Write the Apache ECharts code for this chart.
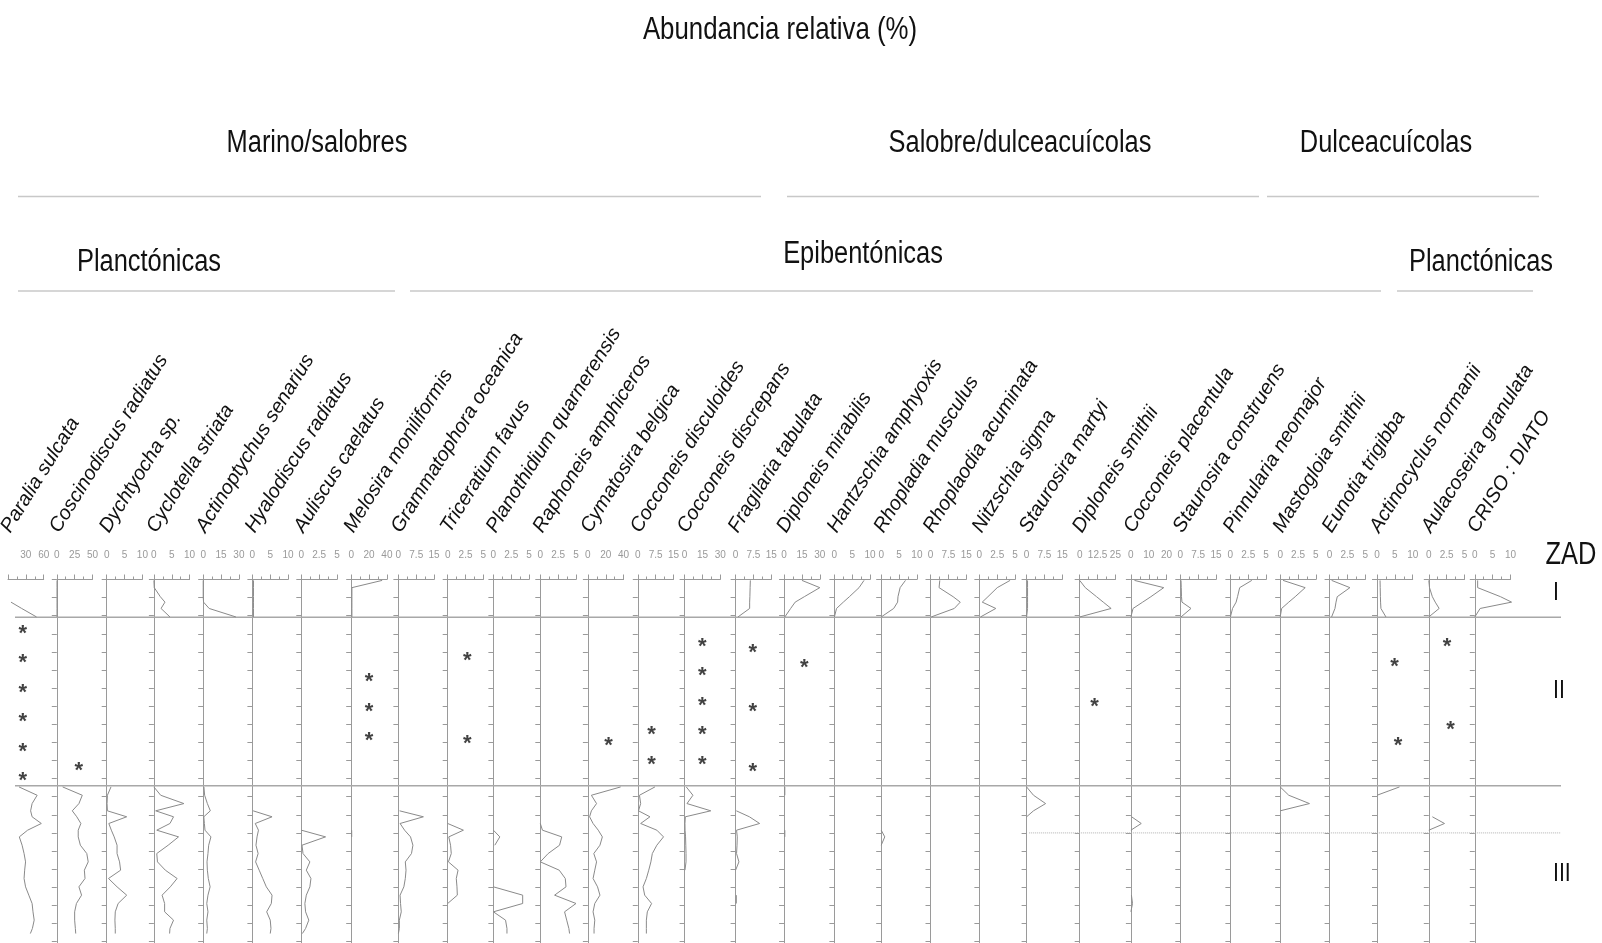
<!DOCTYPE html>
<html><head><meta charset="utf-8">
<script src="https://cdn.jsdelivr.net/npm/echarts@6/dist/echarts.min.js"></script>
<style>html,body{margin:0;padding:0;background:#fff}#c{width:1602px;height:943px}</style>
</head><body><div id="c"></div>
<script>
// ---------------- data ----------------
const species = ['Paralia sulcata','Coscinodiscus radiatus','Dychtyocha sp.','Cyclotella striata','Actinoptychus senarius','Hyalodiscus radiatus','Auliscus caelatus','Melosira moniliformis','Grammatophora oceanica','Triceratium favus','Planothidium quarnerensis','Raphoneis amphiceros','Cymatosira belgica','Cocconeis disculoides','Cocconeis discrepans','Fragilaria tabulata','Diploneis mirabilis','Hantzschia amphyoxis','Rhopladia musculus','Rhoplaodia acuminata','Nitzschia sigma','Staurosira martyi','Diploneis smithii','Cocconeis placentula','Staurosira construens','Pinnularia neomajor','Mastogloia smithii','Eunotia trigibba','Actinocyclus normanii','Aulacoseira granulata','CRISO : DIATO'];
const axisMax = [60,50,10,10,30,10,5,40,15,5,5,5,40,15,30,15,30,10,10,15,5,15,25,20,15,5,5,5,10,5,10];

// sample depths (depth units, 1 unit = one tick of the depth axis)
const depthI = [0.05,0.45,0.95,1.25,1.6,2.07];
const depthIII = [11.46,11.92,12.38,12.78,13.11,13.48,13.85,14.22,14.68,15.14,15.6,16.06,16.52,16.98,17.44,17.9,18.36,18.82,19.28,19.56];

// zone I relative abundances (%)
const zoneI = [
 [null,null,null,5,23,48],
 [0.3,0.3,0.3,0.3,0.3,0.3],
 null,
 [0,0.1,1.8,3.1,2.0,4.5],
 [0,0,0,0.3,5,27.5],
 [0.3,0.3,0.3,0.3,0.3,0.3],
 null,
 [34.7,0.8,0.8,0.8,0.8,0.8],
 null, null, null, null, null, null, null,
 [6.2,6.1,6.0,5.9,5.9,1.0],
 [15,30,17,9.3,5.5,0.6],
 [8.3,6.9,4.2,2.5,0.6,0],
 [6.8,5.3,4.7,4.6,3.5,0],
 [3.9,3.6,9.5,12.5,10,0.3],
 [4.3,2.5,1.2,0.4,2.3,0.15],
 [0.4,0.4,0.4,0.4,0.4,0],
 [0,3.9,11.8,16.5,22,0],
 [2,18.4,11.2,6.6,1.2,0],
 [0.3,0.4,0.5,0.7,4.5,0.3],
 [3.0,1.3,1.0,0.8,0.3,0],
 [0.4,3.5,2.1,1.2,0.2,0],
 [0.28,2.85,1.07,0.9,0.75,0.28],
 [0.85,0.9,0.95,1.0,1.1,2.5],
 [0,0.1,0.5,0.9,1.45,0],
 [0.8,0.8,7.2,10.3,1.5,0]
];

// zone III relative abundances (%)
const zoneIII = [
 [18.5,49,40.5,38,40.5,56,33,19,23.7,27,29.5,28,27,29.5,35,40.5,42,44,41,37.6],
 [8.2,35.7,31,21.7,28,33.7,30,30,33,42,44,38.6,39.5,31,34.7,27.5,25,25,26,26.5],
 [1.2,0.2,0.1,0.2,5.6,0.6,1.3,2.1,2.9,2.9,3.6,3.9,0.5,2.9,5.6,3.2,2.4,2.3,2.4,2.4],
 [0,1.9,8.4,0.5,5.5,4.5,0.8,6.9,4.0,0.8,1.0,3.2,6.5,4.6,2.3,3.0,3.0,5.5,4.5,4.4],
 [0.6,1.2,3.5,6.0,0.5,1.0,1.5,6.5,4.6,4.0,3.2,3.5,4.3,5.8,4.0,3.0,4.0,3.0,3.5,3.0],
 [null,null,null,0.2,5.5,0.8,1.7,1.3,1.0,1.6,0.9,1.9,2.9,3.9,5.5,5.3,4.0,5.0,5.2,5.0],
 [null,null,null,null,null,null,0,3.4,0.1,0.24,1.2,0.7,1.35,1.2,0.7,0.5,0.6,1.05,0.6,0.15],
 [null,null,null,null,null,null,0.5,0.6,null,null,null,null,null,null,null,null,null,null,null,null],
 [null,null,null,0.5,10.5,0.7,2.6,5.1,6.1,5.5,2.9,3.2,2.9,2.3,0.7,0.9,1.2,0.4,0.4,0],
 [null,null,null,null,null,0,2.2,0.15,0.4,0.5,0.1,1.45,1.2,1.3,1.35,0,null,null,null,null],
 [null,null,null,null,null,null,0,0.9,0.2,null,null,null,null,0,4.1,4.1,0,1.7,1.9,1.9],
 [null,null,null,null,null,0,0.3,3.0,2.7,1.1,0,2.65,3.5,3.6,2.0,5.0,3.4,3.7,4.0,4.1],
 [36.7,3.9,9.7,3.9,1.9,5.8,11.6,16.2,13.5,6.6,9.7,7.7,5.8,10.8,13.5,7.7,5.8,7.7,6.9,6.9],
 [7.2,0.7,1.2,0.3,5.1,1.2,8.0,10.8,8.0,6.1,5.5,4.6,3.6,2.2,2.9,5.8,4.0,3.6,3.6,3.6],
 [1.4,7,2,22,0.6,0.3,0.4,0.8,1.0,1.2,1.2,0.3,null,null,null,null,null,null,null,null],
 [null,null,null,0.3,5.8,10.1,0.4,0.7,0.6,0.4,1.4,0,null,null,0.3,0.3,null,null,null,null],
 [0.6,0.6,null,null,null,null,0.6,0.6,null,null,null,null,null,null,null,null,null,null,null,null],
 null,
 [null,null,null,null,null,null,0,1.0,0,null,null,null,null,null,null,null,null,null,null,null],
 null, null,
 [0,2.9,8.0,2.9,0,null,null,null,null,null,null,null,null,null,null,null,null,null,null,null],
 null,
 [null,null,null,null,0.4,5.8,0,null,null,null,null,null,null,null,0.3,0.9,0,null,null,null],
 null, null,
 [0,1.2,4.1,0,null,null,null,null,null,null,null,null,null,null,null,null,null,null,null,null],
 null,
 [6.3,0,null,null,null,null,null,null,null,null,null,null,null,null,null,null,null,null,null,null],
 [null,null,null,null,0.5,2.2,0,null,null,null,null,null,null,null,null,null,null,null,null,null],
 null
];

// zone II presence marks: [panel index, value, depth]
const presence = [
 [0,24.7,2.75],[0,24.7,4.35],[0,24.7,5.98],[0,24.7,7.61],[0,24.7,9.24],[0,24.7,10.86],
 [1,30.7,10.29],
 [7,20,5.4],[7,20,7.03],[7,20,8.65],
 [9,2.75,4.23],[9,2.75,8.8],
 [12,23,8.9],
 [13,5.8,8.31],[13,5.8,9.97],
 [14,14.8,3.44],[14,14.8,5.04],[14,14.8,6.7],[14,14.8,8.31],[14,14.8,9.97],
 [15,7.2,3.8],[15,7.2,7.06],[15,7.2,10.34],
 [16,17,4.6],
 [22,10.4,6.75],
 [28,4.9,4.54],[28,5.9,8.9],
 [29,2.56,3.47],[29,3.05,8.04]
];

const zoneBounds = [2.09, 11.39];
const dottedDepth = 14.0;
const zoneNames = ['I','II','III'];
const zoneLabelDepths = [0.75, 6.16, 16.27];

const titleText = 'Abundancia relativa (%)';
const groupTop = ['Marino/salobres','Salobre/dulceacuícolas','Dulceacuícolas'];
const groupMid = ['Planctónicas','Epibentónicas','Planctónicas'];

// ---------------- layout ----------------
const panelLeft = [8,56.8,106.7,153.9,203.2,252.4,301.3,351.2,398.4,447.7,493.4,540.3,587.9,637.8,684.6,735.6,784.1,834.4,881.2,930.5,979.4,1026.6,1079.7,1130.9,1180.3,1230.4,1280.2,1329.6,1377,1428.8,1474.8];
const groupTopPos = [[317,143,18,761],[1020,143,787,1259],[1386,143,1267,1539]];
const groupMidPos = [[149,262,18,395],[863,254,410,1381],[1481,262,1397,1533]];
const TOP = 579.5, TICK = 18.1, DMAX = 22, PW = 35.7;
const SANS = "'Liberation Sans',Arial,sans-serif";
const NARROWX = 0.82;
const AX = '#9a9a9a', CURVE = '#8a8a8a';

const chart = echarts.init(document.getElementById('c'));
const grids=[], xAxes=[], yAxes=[], series=[];

function lineSeries(i, pts){
  return {type:'line', xAxisIndex:i, yAxisIndex:i, data:pts, symbol:'none', silent:true,
    clip:false, lineStyle:{color:CURVE, width:1}, z:3};
}
function addRuns(i, vals, depths){
  if(!vals) return;
  let run=[];
  const flush=()=>{ if(run.length>1) series.push(lineSeries(i,run)); run=[]; };
  vals.forEach((v,k)=>{ if(v==null) flush(); else run.push([v,depths[k]]); });
  flush();
}

species.forEach((name,i)=>{
  const mx = axisMax[i];
  grids.push({left:panelLeft[i], top:TOP, width:PW, height:DMAX*TICK, containLabel:false, outerBoundsMode:'none'});
  xAxes.push({gridIndex:i, type:'value', position:'top', min:0, max:mx, interval:mx/2,
    axisLine:{show:true, onZero:false, lineStyle:{color:AX,width:1}},
    axisTick:{show:true, length:5, lineStyle:{color:AX,width:1}},
    minorTick:{show:true, splitNumber:2, length:3, lineStyle:{color:AX,width:1}},
    splitLine:{show:false}, minorSplitLine:{show:false},
    axisLabel:{show:true, margin:19, fontSize:10, color:'#999', fontFamily:SANS,
      showMinLabel:i!==0, showMaxLabel:true, formatter:(v)=>String(v)}
  });
  yAxes.push({gridIndex:i, type:'value', inverse:true, min:0, max:DMAX, interval:1,
    axisLine:{show:i!==0, onZero:false, lineStyle:{color:AX,width:1}},
    axisTick:{show:i!==0, length:5, lineStyle:{color:AX,width:1}},
    axisLabel:{show:false}, splitLine:{show:false}
  });
  addRuns(i, zoneI[i], depthI);
  addRuns(i, zoneIII[i], depthIII);
});

// presence marks
const byPanel = {};
presence.forEach(([p,v,d])=>{ (byPanel[p]=byPanel[p]||[]).push([v,d]); });
Object.keys(byPanel).forEach(p=>{
  series.push({type:'scatter', xAxisIndex:+p, yAxisIndex:+p, data:byPanel[p], symbol:'circle', symbolSize:1,
    silent:true, clip:false, itemStyle:{color:'rgba(0,0,0,0)'}, z:5,
    label:{show:true, position:'inside', formatter:'*', fontSize:22, fontWeight:'bold', color:'#111', fontFamily:SANS, offset:[0,5]}});
});

// overlay grid for zone boundaries
const OV = species.length;
grids.push({left:15, top:TOP, width:1546, height:DMAX*TICK, containLabel:false, outerBoundsMode:'none'});
xAxes.push({gridIndex:OV, type:'value', min:0, max:1, show:false});
yAxes.push({gridIndex:OV, type:'value', inverse:true, min:0, max:DMAX, show:false});
zoneBounds.forEach(d=>{
  series.push({type:'line', xAxisIndex:OV, yAxisIndex:OV, data:[[0,d],[1,d]], symbol:'none', silent:true, clip:false,
    lineStyle:{color:'#a8a8a8', width:1.5}, z:2});
});
series.push({type:'line', xAxisIndex:OV, yAxisIndex:OV, data:[[0.656,dottedDepth],[1,dottedDepth]], symbol:'none', silent:true, clip:false,
  lineStyle:{color:'#b0b0b0', width:1, type:'dotted'}, z:2});

chart.setOption({animation:false, backgroundColor:'#fff', grid:grids, xAxis:xAxes, yAxis:yAxes, series:series});

// ---------------- texts ----------------
function narrowText(t, x, y, size, align){
  return {type:'text', x:x, y:y, scaleX:NARROWX, scaleY:1,
    style:{text:t, font:size+'px '+SANS, fill:'#111', textAlign:align||'center', textVerticalAlign:'middle'}};
}
const g = [];
g.push(narrowText(titleText, 780, 30, 31.5));
groupTop.forEach((t,k)=>{
  const [cx,cy,a,b] = groupTopPos[k];
  g.push(narrowText(t, cx, cy, 31));
  g.push({type:'line', shape:{x1:a,y1:196.5,x2:b,y2:196.5}, style:{stroke:'#c8c8c8', lineWidth:1.6}});
});
groupMid.forEach((t,k)=>{
  const [cx,cy,a,b] = groupMidPos[k];
  g.push(narrowText(t, cx, cy, 31));
  g.push({type:'line', shape:{x1:a,y1:291,x2:b,y2:291}, style:{stroke:'#c8c8c8', lineWidth:1.6}});
});
species.forEach((name,i)=>{
  g.push({type:'text', x:panelLeft[i]+6, y:536, rotation:58*Math.PI/180,
    style:{text:name, font:'italic 20px '+SANS, fill:'#111', textAlign:'left', textVerticalAlign:'bottom'}});
});
g.push(narrowText('ZAD', 1571, 555, 31));
zoneNames.forEach((z,k)=>{
  const p = chart.convertToPixel({gridIndex:OV}, [1, zoneLabelDepths[k]]);
  g.push(narrowText(z, 1553, p[1], 26, 'left'));
});
chart.setOption({graphic:g});
</script>
</body></html>
